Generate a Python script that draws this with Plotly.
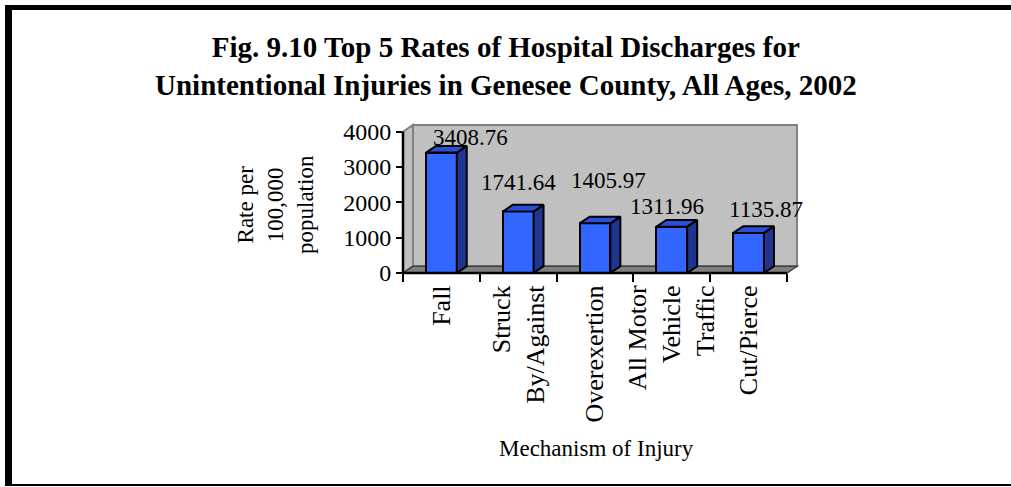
import plotly.graph_objects as go

# ---------------- data ----------------
categories = ["Fall", "Struck<br>By/Against", "Overexertion",
              "All Motor<br>Vehicle<br>Traffic", "Cut/Pierce"]
rates = [3408.76, 1741.64, 1405.97, 1311.96, 1135.87]
y_ticks = [0, 1000, 2000, 3000, 4000]

title_lines = ["Fig. 9.10 Top 5 Rates of Hospital Discharges for",
               "Unintentional Injuries in Genesee County, All Ages, 2002"]
y_title = "Rate per<br>100,000<br>population"
x_title = "Mechanism of Injury"

# ---------------- style ----------------
FONT = "Liberation Serif"
FIG_W, FIG_H = 1011, 487
PL, PT, PW, PH = 403, 125, 394, 148          # plot area in pixels
DX, DY = 0.13, 190                           # 3-D depth (category units, value units)
BAR_W = 0.4
FRONT, SIDE, TOP = "#3366FF", "#1F3590", "#2A50D8"
WALL, FLOOR, EDGE = "#C0C0C0", "#808080", "#808080"
label_shift = [(29, 15), (0, 29), (13, 43), (-5, 20), (17, 23)]  # px offsets of value labels

n = len(rates)
xs = list(range(n))
XMIN, XMAX = -0.5, n - 0.5 + DX
YMIN, YMAX = 0, y_ticks[-1] + DY


def fx(v):   # value -> paper x
    return (v - XMIN) / (XMAX - XMIN)


def fy(v):   # value -> paper y
    return (v - YMIN) / (YMAX - YMIN)


def px(p):   # pixel -> paper x
    return (p - PL) / PW


def py(p):   # pixel -> paper y
    return (PT + PH - p) / PH


fig = go.Figure()

# front faces
fig.add_trace(go.Bar(x=xs, y=rates, width=BAR_W,
                     marker=dict(color=FRONT, line=dict(color="black", width=2)),
                     hoverinfo="skip", showlegend=False))

# side and top faces
for i, v in zip(xs, rates):
    x0, x1 = i - BAR_W / 2, i + BAR_W / 2
    fig.add_trace(go.Scatter(x=[x1, x1 + DX, x1 + DX, x1, x1],
                             y=[0, DY, v + DY, v, 0],
                             mode="lines", fill="toself", fillcolor=SIDE,
                             line=dict(color="black", width=2),
                             hoverinfo="skip", showlegend=False))
    fig.add_trace(go.Scatter(x=[x0, x1, x1 + DX, x0 + DX, x0],
                             y=[v, v, v + DY, v + DY, v],
                             mode="lines", fill="toself", fillcolor=TOP,
                             line=dict(color="black", width=2),
                             hoverinfo="skip", showlegend=False))

shapes = []
# back wall
shapes.append(dict(type="rect", xref="paper", yref="paper", layer="below",
                   x0=fx(XMIN + DX), x1=fx(XMAX), y0=fy(DY), y1=fy(YMAX),
                   fillcolor=WALL, line=dict(color=EDGE, width=2)))
# side wall
shapes.append(dict(type="path", xref="paper", yref="paper", layer="below",
                   path=f"M{fx(XMIN)},{fy(0)} L{fx(XMIN)},{fy(y_ticks[-1])} "
                        f"L{fx(XMIN + DX)},{fy(YMAX)} L{fx(XMIN + DX)},{fy(DY)} Z",
                   fillcolor=WALL, line=dict(color=EDGE, width=2)))
# floor
shapes.append(dict(type="path", xref="paper", yref="paper", layer="below",
                   path=f"M{fx(XMIN)},{fy(0)} L{fx(n - 0.5)},{fy(0)} "
                        f"L{fx(XMAX)},{fy(DY)} L{fx(XMIN + DX)},{fy(DY)} Z",
                   fillcolor=FLOOR, line=dict(color="#404040", width=1.5)))
# axis lines
shapes.append(dict(type="line", xref="paper", yref="paper",
                   x0=fx(XMIN), x1=fx(XMIN), y0=fy(0), y1=fy(y_ticks[-1]),
                   line=dict(color="black", width=2.5)))
shapes.append(dict(type="line", xref="paper", yref="paper",
                   x0=fx(XMIN), x1=fx(n - 0.5), y0=fy(0), y1=fy(0),
                   line=dict(color="black", width=2.5)))
# page border
shapes.append(dict(type="rect", xref="paper", yref="paper", layer="above",
                   x0=px(5), x1=px(1011), y0=py(5), y1=py(10),
                   fillcolor="black", line=dict(width=0)))
shapes.append(dict(type="rect", xref="paper", yref="paper", layer="above",
                   x0=px(5), x1=px(12), y0=py(5), y1=py(486),
                   fillcolor="black", line=dict(width=0)))
shapes.append(dict(type="rect", xref="paper", yref="paper", layer="above",
                   x0=px(5), x1=px(1011), y0=py(484), y1=py(486),
                   fillcolor="black", line=dict(width=0)))

annotations = []
for i, v, (sx, sy) in zip(xs, rates, label_shift):
    annotations.append(dict(x=i, y=v, xref="x", yref="y", text=f"{v:.2f}",
                            showarrow=False, xshift=sx, yshift=sy,
                            xanchor="center", yanchor="middle",
                            font=dict(family=FONT, size=23, color="black")))
annotations.append(dict(xref="paper", yref="paper", x=px(275), y=py(205),
                        text=y_title, textangle=-90, showarrow=False,
                        xanchor="center", yanchor="middle",
                        font=dict(family=FONT, size=23, color="black")))
annotations.append(dict(xref="paper", yref="paper", x=px(596), y=py(448),
                        text=x_title, showarrow=False,
                        xanchor="center", yanchor="middle",
                        font=dict(family=FONT, size=23, color="black")))
annotations.append(dict(xref="paper", yref="paper", x=px(505.5), y=py(66),
                        text="<br>".join(f"<b>{t}</b>" for t in title_lines),
                        showarrow=False, xanchor="center", yanchor="middle",
                        font=dict(family=FONT, size=29, color="black")))

fig.update_layout(
    width=FIG_W, height=FIG_H,
    margin=dict(l=PL, r=FIG_W - PL - PW, t=PT, b=FIG_H - PT - PH, pad=0),
    paper_bgcolor="white", plot_bgcolor="rgba(0,0,0,0)",
    shapes=shapes, annotations=annotations, showlegend=False,
    bargap=0,
    xaxis=dict(range=[XMIN, XMAX], tickmode="array", tickvals=xs, ticktext=categories,
               tickangle=-90, ticks="outside", ticklen=1, tickcolor="rgba(0,0,0,0)",
               showline=False, showgrid=False, zeroline=False,
               tickfont=dict(family=FONT, size=26, color="black"),
               minor=dict(tickmode="array", tickvals=[i - 0.5 for i in range(n + 1)],
                          ticks="outside", ticklen=8, tickwidth=2, tickcolor="black",
                          showgrid=False)),
    yaxis=dict(range=[YMIN, YMAX], tickmode="array", tickvals=y_ticks,
               ticks="outside", ticklen=6, tickwidth=2, tickcolor="black",
               showline=False, showgrid=False, zeroline=False,
               tickfont=dict(family=FONT, size=24, color="black")),
)

fig.write_html("out.html", config={"displayModeBar": False},
               post_script="document.body.style.margin='0';document.body.style.overflow='hidden';")
